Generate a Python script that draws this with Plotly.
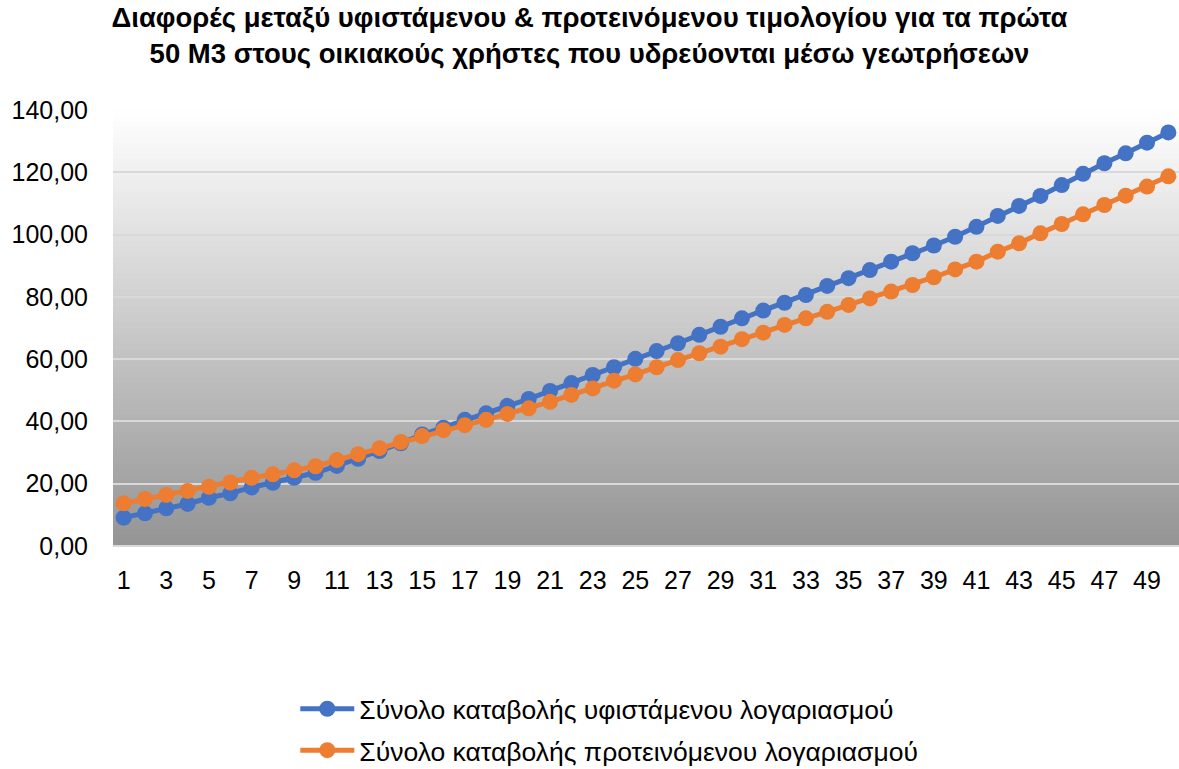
import plotly.graph_objects as go

# Data
months = list(range(1, 51))
tick_labels = [str(v) for v in range(1, 50, 2)]

existing_bill = [
    9.1, 10.5, 12.1, 13.5, 15.5, 16.9, 18.8, 20.3, 21.9, 23.5,
    25.7, 28.0, 30.5, 33.0, 35.8, 38.0, 40.5, 42.6, 45.0, 47.2,
    49.8, 52.3, 54.9, 57.4, 60.1, 62.6, 65.1, 67.8, 70.4, 73.1,
    75.6, 78.1, 80.6, 83.5, 86.0, 88.6, 91.3, 94.0, 96.5, 99.3,
    102.5, 106.0, 109.2, 112.4, 115.9, 119.5, 122.9, 126.1, 129.5, 132.8,
]
proposed_bill = [
    13.7, 15.1, 16.4, 17.7, 19.0, 20.4, 21.9, 23.0, 24.3, 25.6,
    27.6, 29.5, 31.4, 33.4, 35.3, 37.2, 38.8, 40.5, 42.4, 44.2,
    46.3, 48.5, 50.6, 53.1, 55.1, 57.4, 59.7, 61.9, 64.0, 66.4,
    68.5, 71.0, 73.1, 75.2, 77.4, 79.5, 81.7, 83.8, 86.3, 88.8,
    91.3, 94.5, 97.2, 100.4, 103.4, 106.5, 109.5, 112.5, 115.4, 118.7,
]

series_names = [
    "Σύνολο καταβολής υφιστάμενου λογαριασμού",
    "Σύνολο καταβολής προτεινόμενου λογαριασμού",
]
colors = ["#4472C4", "#ED7D31"]
title_text = ("<b>Διαφορές μεταξύ υφιστάμενου & προτεινόμενου τιμολογίου για τα πρώτα<br>"
              "50 Μ3 στους οικιακούς χρήστες που υδρεύονται μέσω γεωτρήσεων</b>")

FONT = "Liberation Sans, Arial, sans-serif"

fig = go.Figure()
for i, (name, vals) in enumerate(zip(series_names, [existing_bill, proposed_bill])):
    fig.add_trace(go.Scatter(
        x=months, y=vals, name=name, mode="lines+markers",
        legendgroup=f"g{i}",
        line=dict(color=colors[i], width=5),
        marker=dict(color=colors[i], size=16),
    ))

# Vertical gradient background (white at top to grey at bottom)
n_bands = 80
top_c, bot_c = 255, 148
shapes = []
for k in range(n_bands):
    y0 = k / n_bands
    y1 = (k + 1) / n_bands
    frac = (k + 0.5) / n_bands
    c = int(round(bot_c + (top_c - bot_c) * frac))
    shapes.append(dict(
        type="rect", xref="x domain", yref="y domain",
        x0=0, x1=1, y0=y0, y1=y1 + 0.002,
        fillcolor=f"rgb({c},{c},{c})", line=dict(width=0), layer="below",
    ))

fig.update_layout(
    width=1179, height=769,
    margin=dict(l=113, r=0, t=110, b=223),
    paper_bgcolor="white", plot_bgcolor="white",
    separators=",.",
    font=dict(family=FONT, color="#000000", size=25),
    title=dict(text=title_text, x=0.5, xanchor="center", xref="container",
               yref="container", y=1 - 27 / 769, yanchor="middle",
               font=dict(family=FONT, size=27.5, color="#000000")),
    shapes=shapes,
    showlegend=True,
    legend=dict(orientation="v", x=0.171, xanchor="left",
                yref="container", y=1 - 685 / 769, yanchor="top",
                itemwidth=54,
                font=dict(family=FONT, size=26.5, color="#000000"),
                tracegroupgap=4, bgcolor="rgba(0,0,0,0)"),
    xaxis=dict(range=[0.5, 50.5], tickmode="array",
               tickvals=list(range(1, 50, 2)), ticktext=tick_labels,
               showgrid=False, zeroline=False, showline=False, automargin=False,
               ticks="outside", ticklen=12, tickcolor="rgba(0,0,0,0)",
               tickfont=dict(family=FONT, size=25, color="#000000")),
    yaxis=dict(range=[0, 140], tick0=0, dtick=20, tickformat=".2f",
               showgrid=True, gridcolor="#D9D9D9", gridwidth=2,
               zeroline=True, zerolinecolor="#D9D9D9", zerolinewidth=2,
               showline=False, ticklabelstandoff=24, automargin=False,
               tickfont=dict(family=FONT, size=25, color="#000000")),
)

fig.write_html("out.html", config={"displayModeBar": False},
               post_script="document.body.style.margin='0';")
